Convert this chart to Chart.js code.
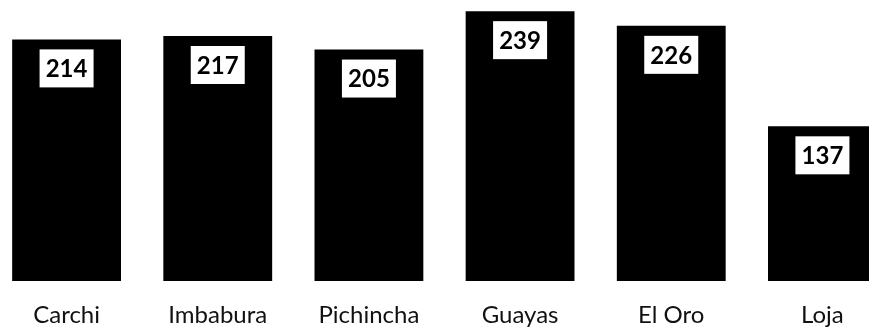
<!DOCTYPE html>
<html>
<head>
<meta charset="utf-8">
<script src="https://cdn.jsdelivr.net/npm/chart.js@4/dist/chart.umd.min.js"></script>
<style>
    html, body { margin: 0; padding: 0; background: #fff; overflow: hidden; }
    #wrap { position: absolute; left: -9px; top: 0; width: 907px; height: 328px; }
</style>
</head>
<body>
<div id="wrap"><canvas id="chart"></canvas></div>
<script>
const provinces = ["Carchi", "Imbabura", "Pichincha", "Guayas", "El Oro", "Loja"];
const counts = [214, 217, 205, 239, 226, 137];

// white box with the value, just under the top of each bar
const valueBoxes = {
    id: "valueBoxes",
    afterDatasetsDraw(chart) {
        const ctx = chart.ctx;
        const meta = chart.getDatasetMeta(0);
        ctx.save();
        ctx.font = "bold 24px Lato";
        ctx.textAlign = "center";
        ctx.textBaseline = "middle";
        meta.data.forEach((bar, i) => {
            const w = 54, h = 38;
            const top = bar.y + 10;
            ctx.fillStyle = "#ffffff";
            ctx.fillRect(bar.x - w / 2, top, w, h);
            ctx.fillStyle = "#000000";
            ctx.fillText(String(counts[i]), bar.x, top + h / 2 + 1);
        });
        ctx.restore();
    }
};

new Chart(document.getElementById("chart"), {
    type: "bar",
    data: {
        labels: provinces,
        datasets: [{
            data: counts,
            backgroundColor: "#000000",
            borderWidth: 0,
            barPercentage: 0.72,
            categoryPercentage: 1.0
        }]
    },
    options: {
        responsive: true,
        maintainAspectRatio: false,
        animation: false,
        layout: { padding: { top: 1, bottom: 0, left: 0, right: 0 } },
        plugins: {
            legend: { display: false },
            tooltip: { enabled: false }
        },
        scales: {
            x: {
                grid: { display: false, drawTicks: false },
                border: { display: false },
                afterFit(scale) { scale.height = 47; },
                ticks: {
                    color: "#111111",
                    padding: 20,
                    font: { family: "Lato", size: 24 }
                }
            },
            y: {
                display: false,
                min: 0,
                max: 248
            }
        }
    },
    plugins: [valueBoxes]
});
</script>
</body>
</html>
